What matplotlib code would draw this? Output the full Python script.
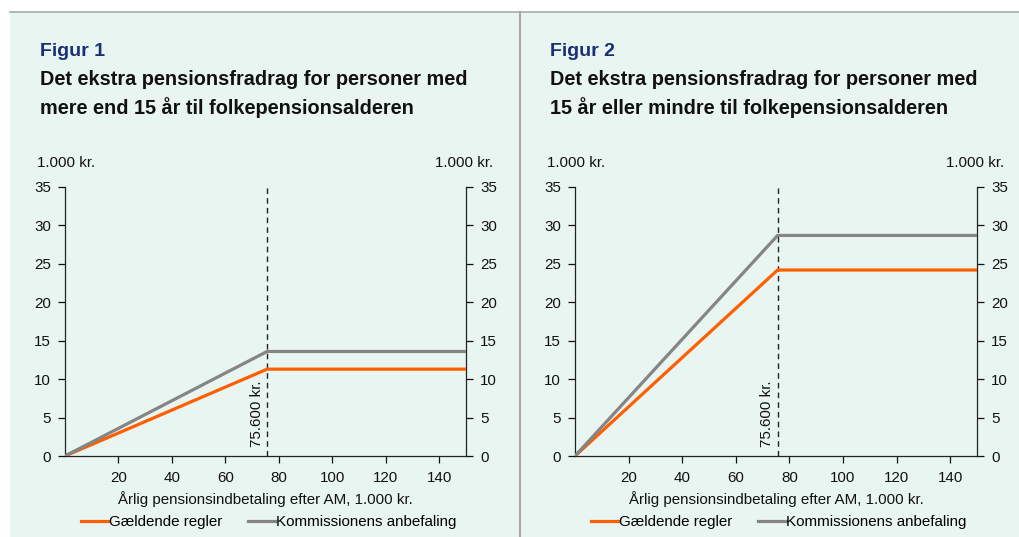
import matplotlib
matplotlib.use("Agg")
import matplotlib.pyplot as plt
from matplotlib.patches import Rectangle
from matplotlib.lines import Line2D

plt.rcParams['font.family'] = ['Liberation Sans', 'DejaVu Sans']

# Data
x_points = [0, 75.6, 150]
fig1_current = [0, 11.3, 11.3]
fig1_commission = [0, 13.6, 13.6]
fig2_current = [0, 24.2, 24.2]
fig2_commission = [0, 28.7, 28.7]
x_ticks = [20, 40, 60, 80, 100, 120, 140]
y_ticks = [0, 5, 10, 15, 20, 25, 30, 35]
threshold = 75.6
threshold_label = "75.600 kr."
series_names = ["Gældende regler", "Kommissionens anbefaling"]
fig_labels = ["Figur 1", "Figur 2"]
titles = ["Det ekstra pensionsfradrag for personer med\nmere end 15 år til folkepensionsalderen",
          "Det ekstra pensionsfradrag for personer med\n15 år eller mindre til folkepensionsalderen"]
xlabel = "Årlig pensionsindbetaling efter AM, 1.000 kr."
unit = "1.000 kr."

W, H = 1019, 537
fig = plt.figure(figsize=(W / 100, H / 100), dpi=100)
fig.patch.set_facecolor('white')

bg = '#E9F5F1'
orange = '#FF5F00'
gray = '#858585'
navy = '#1B2F73'
fs = 10.9

def fx(px):
    return px / W

def fy(py):
    return 1 - py / H

# panel backgrounds
fig.add_artist(Rectangle((fx(10), 0), fx(509), fy(12), transform=fig.transFigure,
                         facecolor=bg, edgecolor='none', zorder=0))
fig.add_artist(Rectangle((fx(521), 0), fx(498), fy(12), transform=fig.transFigure,
                         facecolor=bg, edgecolor='none', zorder=0))
fig.add_artist(Line2D([fx(10), 1], [fy(11.5), fy(11.5)], transform=fig.transFigure,
                      color='#AAAAAA', lw=1.2))
fig.add_artist(Line2D([fx(520), fx(520)], [0, fy(11.5)], transform=fig.transFigure,
                      color='#AAAAAA', lw=1.5))

panels = [
    dict(x0=65, x1=466, tx=40, data=(fig1_current, fig1_commission)),
    dict(x0=575, x1=977, tx=550, data=(fig2_current, fig2_commission)),
]
y_top, y_bot = 187, 456

for i, p in enumerate(panels):
    ax = fig.add_axes([fx(p['x0']), fy(y_bot), fx(p['x1'] - p['x0']), (y_bot - y_top) / H])
    ax.set_facecolor('none')
    ax.plot(x_points, p['data'][0], color=orange, lw=2.3, solid_capstyle='butt', zorder=3)
    ax.plot(x_points, p['data'][1], color=gray, lw=2.3, solid_capstyle='butt', zorder=3)
    ax.axvline(threshold, color='#222222', lw=1.0, ls=(0, (4, 3)), zorder=2)
    ax.text(threshold - 1.2, 1.2, threshold_label, rotation=90, ha='right', va='bottom',
            fontsize=fs, color='#111111')
    ax.set_xlim(0, 150)
    ax.set_ylim(0, 35)
    ax.set_xticks(x_ticks)
    ax.set_yticks(y_ticks)
    ax.tick_params(axis='both', labelsize=fs, colors='#111111', length=5, width=0.9,
                   direction='out')
    ax.tick_params(axis='y', right=True, labelright=True, pad=5)
    ax.tick_params(axis='x', pad=6)
    ax.spines['top'].set_visible(False)
    for s in ['left', 'right', 'bottom']:
        ax.spines[s].set_linewidth(0.9)
        ax.spines[s].set_color('#222222')
    ax.set_xlabel(xlabel, fontsize=fs, color='#111111', labelpad=4)

    fig.text(fx(p['tx']), fy(52), fig_labels[i], fontsize=14, fontweight='bold',
             color=navy, va='center', ha='left')
    fig.text(fx(p['tx']), fy(94), titles[i], fontsize=14.3, fontweight='bold',
             color='#111111', va='center', ha='left', linespacing=1.5)
    fig.text(fx(p['x0'] - 28), fy(163), unit, fontsize=fs, color='#111111',
             va='center', ha='left')
    fig.text(fx(p['x1'] + 27), fy(163), unit, fontsize=fs, color='#111111',
             va='center', ha='right')

    handles = [Line2D([], [], color=orange, lw=2.3), Line2D([], [], color=gray, lw=2.3)]
    cx = (p['x0'] + p['x1']) / 2 + 3
    fig.legend(handles, series_names, loc='center', bbox_to_anchor=(fx(cx), fy(522)),
               ncol=2, frameon=False, fontsize=fs, handlelength=1.8, handletextpad=0.05,
               columnspacing=1.7, borderaxespad=0, borderpad=0)

fig.savefig('out.png', dpi=100, facecolor=fig.get_facecolor())
